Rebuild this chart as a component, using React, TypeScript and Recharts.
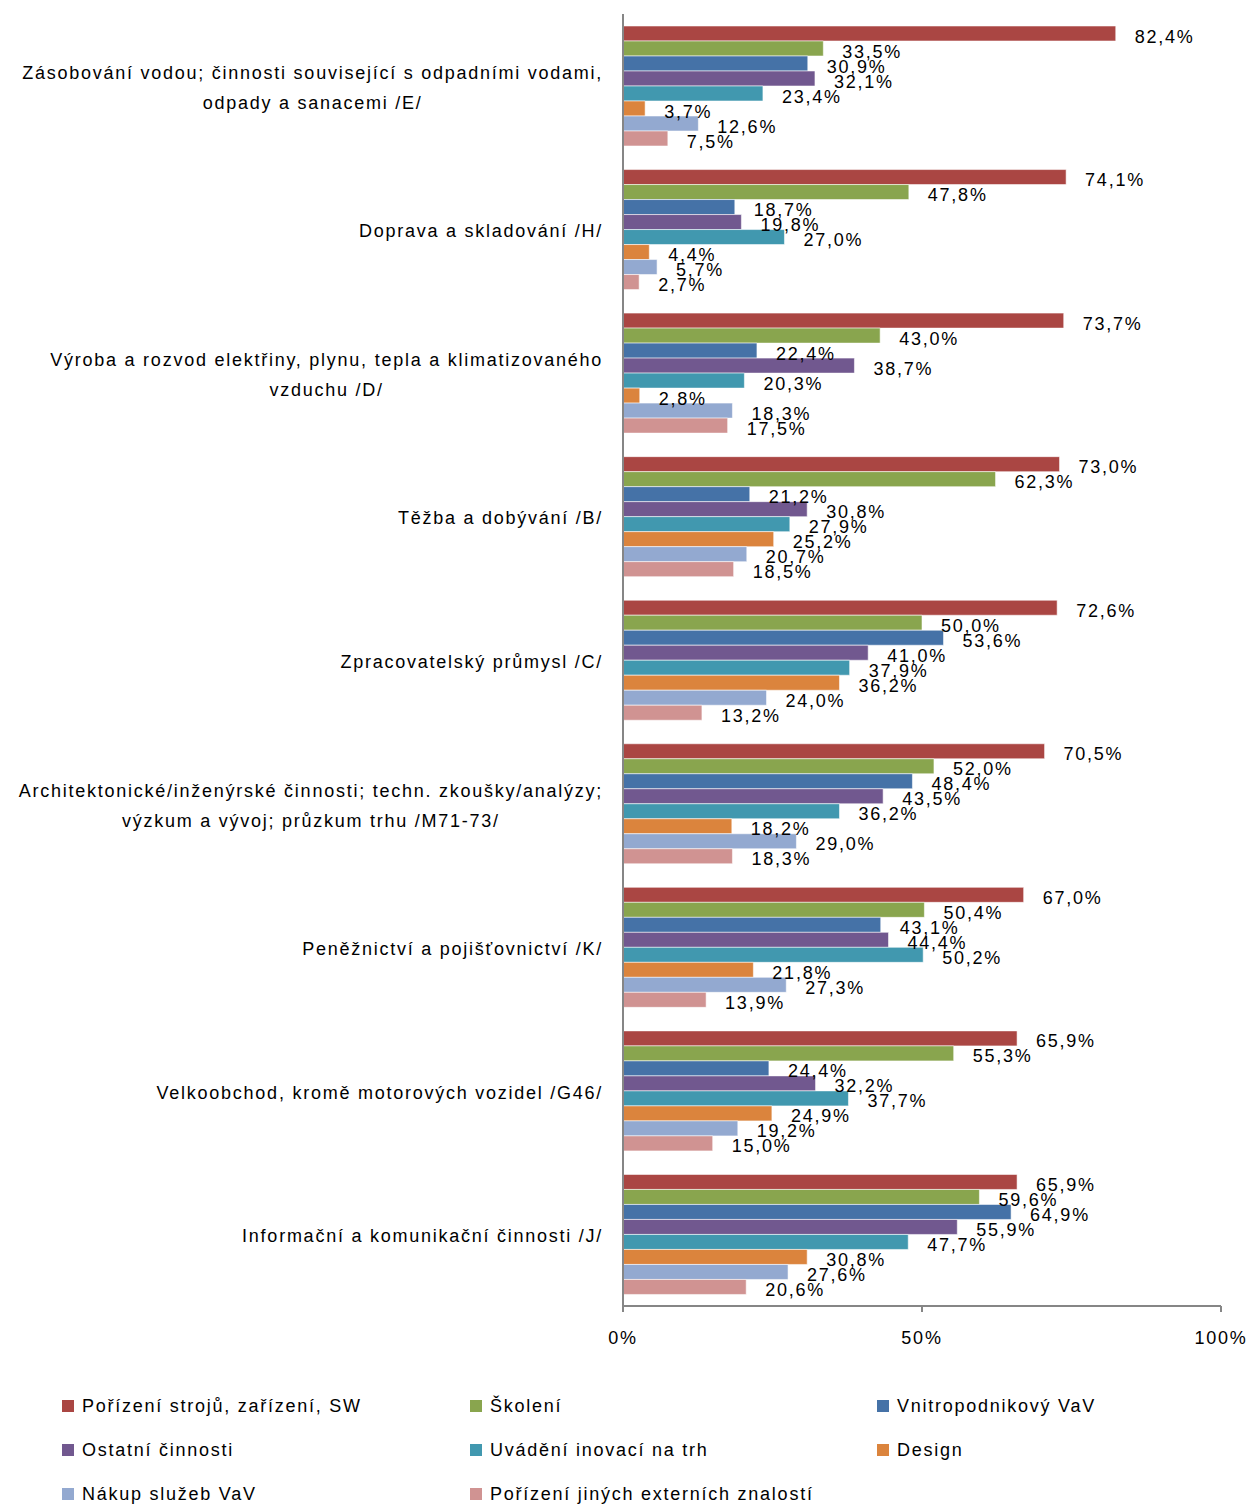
import React from "react";
import { BarChart, Bar, XAxis, YAxis, LabelList } from "recharts";

// categories (top to bottom), line breaks as in the original chart
const categories = [
  "Zásobování vodou; činnosti související s odpadními vodami,\nodpady a sanacemi /E/",
  "Doprava a skladování /H/",
  "Výroba a rozvod elektřiny, plynu, tepla a klimatizovaného\nvzduchu /D/",
  "Těžba a dobývání /B/",
  "Zpracovatelský průmysl /C/",
  "Architektonické/inženýrské činnosti; techn. zkoušky/analýzy;\nvýzkum a vývoj; průzkum trhu /M71-73/",
  "Peněžnictví a pojišťovnictví /K/",
  "Velkoobchod, kromě motorových vozidel /G46/",
  "Informační a komunikační činnosti /J/",
];

// series values in %
const strojeSW = [82.4, 74.1, 73.7, 73.0, 72.6, 70.5, 67.0, 65.9, 65.9];
const skoleni = [33.5, 47.8, 43.0, 62.3, 50.0, 52.0, 50.4, 55.3, 59.6];
const vnitroVaV = [30.9, 18.7, 22.4, 21.2, 53.6, 48.4, 43.1, 24.4, 64.9];
const ostatni = [32.1, 19.8, 38.7, 30.8, 41.0, 43.5, 44.4, 32.2, 55.9];
const uvadeni = [23.4, 27.0, 20.3, 27.9, 37.9, 36.2, 50.2, 37.7, 47.7];
const design = [3.7, 4.4, 2.8, 25.2, 36.2, 18.2, 21.8, 24.9, 30.8];
const nakupVaV = [12.6, 5.7, 18.3, 20.7, 24.0, 29.0, 27.3, 19.2, 27.6];
const externi = [7.5, 2.7, 17.5, 18.5, 13.2, 18.3, 13.9, 15.0, 20.6];

const xTicks = [0, 50, 100];

const series = [
  { key: "s1", name: "Pořízení strojů, zařízení, SW", values: strojeSW, color: "#AA4643" },
  { key: "s2", name: "Školení", values: skoleni, color: "#89A54E" },
  { key: "s3", name: "Vnitropodnikový VaV", values: vnitroVaV, color: "#4572A7" },
  { key: "s4", name: "Ostatní činnosti", values: ostatni, color: "#71588F" },
  { key: "s5", name: "Uvádění inovací na trh", values: uvadeni, color: "#4198AF" },
  { key: "s6", name: "Design", values: design, color: "#DB843D" },
  { key: "s7", name: "Nákup služeb VaV", values: nakupVaV, color: "#93A9D0" },
  { key: "s8", name: "Pořízení jiných externích znalostí", values: externi, color: "#D09392" },
];

const data = categories.map((name, i) => {
  const row: Record<string, string | number> = { name };
  series.forEach((s) => {
    row[s.key] = s.values[i];
  });
  return row;
});

const FONT = "'Liberation Sans', Arial, sans-serif";
const FONT_SIZE = 18;
const SPACING = 1.75;

// measure text width to center wrapped lines like Excel does
let ctx: CanvasRenderingContext2D | null = null;
function textWidth(s: string) {
  if (!ctx) ctx = document.createElement("canvas").getContext("2d");
  if (!ctx) return s.length * 10;
  ctx.font = `${FONT_SIZE}px ${FONT}`;
  return ctx.measureText(s).width + SPACING * s.length;
}

const CategoryTick = (props: any) => {
  const { x, y, payload } = props;
  const lines: string[] = String(payload.value).split("\n");
  const maxW = Math.max(...lines.map(textWidth));
  const cx = x - maxW / 2;
  const lineH = 30;
  const top = y + 2 - ((lines.length - 1) * lineH) / 2;
  return (
    <g>
      {lines.map((l, i) => (
        <text
          key={i}
          x={cx}
          y={top + i * lineH}
          textAnchor="middle"
          dominantBaseline="central"
          fontSize={FONT_SIZE}
          fontFamily={FONT}
          letterSpacing={SPACING}
          fill="#000"
        >
          {l}
        </text>
      ))}
    </g>
  );
};

const ValueLabel = (props: any) => {
  const { x, y, width, height, value } = props;
  return (
    <text
      x={x + width + 19}
      y={y + height / 2 + 3}
      dominantBaseline="central"
      fontSize={FONT_SIZE}
      fontFamily={FONT}
      letterSpacing={SPACING}
      fill="#000"
    >
      {Number(value).toFixed(1).replace(".", ",") + "%"}
    </text>
  );
};

const legendCols = [62, 470, 877];
const legendRows = [1406, 1450, 1494];

export default function App() {
  return (
    <div style={{ position: "absolute", left: 0, top: 0, width: 1253, height: 1506, background: "#fff" }}>
      <BarChart
        width={1253}
        height={1380}
        data={data}
        layout="vertical"
        margin={{ top: 14, right: 32, left: 0, bottom: 24 }}
        barCategoryGap={12}
        barGap={0}
      >
        <XAxis
          type="number"
          domain={[0, 100]}
          ticks={xTicks}
          height={50}
          axisLine={{ stroke: "#868686", strokeWidth: 2 }}
          tickLine={{ stroke: "#868686", strokeWidth: 2 }}
          tickSize={6}
          tickMargin={19}
          tickFormatter={(v: number) => `${v}%`}
          tick={{ fill: "#000", fontSize: FONT_SIZE, fontFamily: FONT, letterSpacing: SPACING }}
        />
        <YAxis
          type="category"
          dataKey="name"
          width={623}
          axisLine={{ stroke: "#868686", strokeWidth: 2 }}
          tickLine={false}
          tickSize={0}
          tickMargin={20}
          interval={0}
          tick={<CategoryTick />}
        />
        {series.map((s) => (
          <Bar
            key={s.key}
            dataKey={s.key}
            name={s.name}
            fill={s.color}
            stroke="rgba(255,255,255,0.55)"
            strokeWidth={1}
            isAnimationActive={false}
          >
            <LabelList dataKey={s.key} content={<ValueLabel />} />
          </Bar>
        ))}
      </BarChart>
      {series.map((s, i) => (
        <div
          key={s.key}
          style={{
            position: "absolute",
            left: legendCols[i % 3],
            top: legendRows[Math.floor(i / 3)] - 12,
            height: 24,
            display: "flex",
            alignItems: "center",
            fontFamily: FONT,
            fontSize: FONT_SIZE,
            letterSpacing: SPACING,
            whiteSpace: "nowrap",
            color: "#000",
          }}
        >
          <span style={{ display: "inline-block", width: 12, height: 12, background: s.color, marginRight: 8 }} />
          {s.name}
        </div>
      ))}
    </div>
  );
}
